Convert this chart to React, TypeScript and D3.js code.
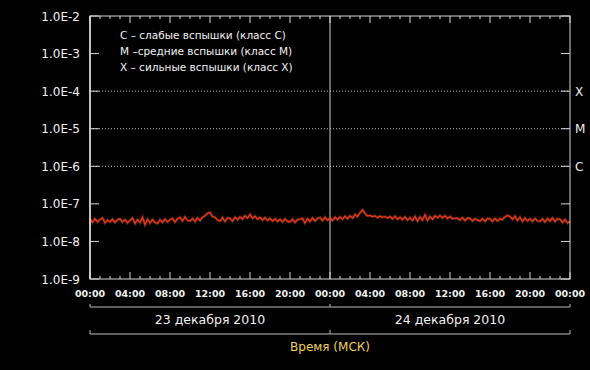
import React from "react";
import * as d3 from "d3";

// X-ray flux, units of 1e-8 W/m^2, every 15 minutes from 23 Dec 00:00 to 25 Dec 00:00
const fluxE8: number[] = [
  3.9, 3.2, 4.0, 3.3, 3.8, 4.2, 3.1, 3.7, 3.3, 3.9, 3.2, 3.8, 4.0, 3.3, 3.8, 3.1,
  3.6, 4.2, 3.0, 3.8, 3.2, 4.4, 2.8, 3.9, 3.1, 3.8, 3.2, 3.0, 3.8, 3.2, 3.9, 3.3,
  3.8, 4.1, 3.3, 4.0, 4.4, 3.5, 4.5, 3.6, 3.5, 4.1, 3.4, 4.2, 3.6, 4.4, 4.8, 5.6,
  5.9, 4.6, 4.4, 3.7, 3.5, 4.3, 3.4, 4.2, 4.1, 3.5, 4.4, 3.8, 4.5, 3.9, 4.8, 4.2,
  5.2, 4.1, 4.7, 3.9, 4.4, 3.7, 4.3, 3.6, 4.1, 3.5, 4.0, 3.4, 3.9, 3.3, 4.0, 3.4,
  3.3, 3.9, 3.2, 3.8, 3.9, 4.1, 3.1, 4.0, 3.4, 4.2, 3.5, 4.1, 4.3, 3.6, 4.4, 3.7,
  4.2, 3.6, 4.4, 3.8, 4.5, 3.9, 4.7, 4.0, 4.8, 4.2, 5.2, 4.6, 5.8, 6.9, 5.6, 4.8,
  4.9, 4.6, 4.8, 4.3, 4.7, 4.4, 4.6, 4.2, 4.6, 4.0, 4.7, 3.9, 4.4, 3.8, 4.5, 3.7,
  4.3, 3.6, 4.6, 3.5, 4.5, 3.7, 5.1, 3.6, 4.6, 3.9, 4.8, 4.3, 4.9, 4.2, 4.8, 4.1,
  4.6, 4.0, 4.2, 4.1, 3.7, 4.3, 3.6, 4.2, 4.1, 3.5, 4.0, 3.7, 3.5, 4.0, 3.4, 4.1,
  4.0, 3.4, 4.1, 3.5, 4.0, 3.8, 4.5, 4.9, 4.6, 3.9, 4.7, 3.6, 4.4, 3.4, 4.2, 3.5,
  4.0, 3.4, 4.1, 3.5, 3.4, 4.0, 3.3, 4.1, 3.5, 4.2, 3.4, 4.0, 3.9, 3.2, 3.8, 3.1,
  3.4,
];
const yTickValues: number[] = [1e-9, 1e-8, 1e-7, 1e-6, 1e-5, 1e-4, 1e-3, 1e-2];
const yTickLabels: string[] = ["1.0E-9", "1.0E-8", "1.0E-7", "1.0E-6", "1.0E-5", "1.0E-4", "1.0E-3", "1.0E-2"];
const xTickHours: number[] = [0, 4, 8, 12, 16, 20, 24, 28, 32, 36, 40, 44, 48];
const xTickLabels: string[] = ["00:00", "04:00", "08:00", "12:00", "16:00", "20:00", "00:00", "04:00", "08:00", "12:00", "16:00", "20:00", "00:00"];
const classLevels: number[] = [1e-4, 1e-5, 1e-6];
const classLabels: string[] = ["X", "M", "C"];
const legendLines: string[] = [
  "C – слабые вспышки (класс C)",
  "M –средние вспышки (класс M)",
  "X – сильные вспышки (класс X)",
];
const dayLabels: string[] = ["23 декабря 2010", "24 декабря 2010"];
const axisTitle = "Время (МСК)";

export default function App() {
  const W = 590, H = 370;
  const left = 90, right = 570, top = 16, bottom = 279;
  const x = d3.scaleLinear().domain([0, 48]).range([left, right]);
  const y = d3.scaleLog().domain([1e-9, 1e-2]).range([bottom, top]);
  const points: [number, number][] = fluxE8.map((v, i) => [i * 0.25, v * 1e-8]);
  const line = d3.line<[number, number]>().x(d => x(d[0])).y(d => y(d[1]));
  const hours = d3.range(0, 49);
  const font = "'DejaVu Sans', Verdana, sans-serif";
  const axisColor = "#d8d8d8";

  return (
    <svg width={W} height={H} style={{ position: "absolute", left: 0, top: 0, background: "#000" }}>
      <rect x={0} y={0} width={W} height={H} fill="#000" />
      {/* class dotted lines */}
      {classLevels.map((c, i) => (
        <g key={"c" + i}>
          <line x1={left} x2={right} y1={y(c)} y2={y(c)} stroke="#bbb" strokeWidth={1} strokeDasharray="1,2" />
          <text x={575} y={y(c) + 4.5} fill="#eee" fontSize={12} fontFamily={font}>{classLabels[i]}</text>
        </g>
      ))}
      {/* midnight line */}
      <line x1={x(24)} x2={x(24)} y1={top} y2={bottom} stroke="#cfcfcf" strokeWidth={1} />
      {/* data */}
      <path d={line(points) || ""} fill="none" stroke="#ff5a2a" strokeOpacity={0.3} strokeWidth={3} />
      <path d={line(points) || ""} fill="none" stroke="#f03c1c" strokeWidth={1.2} />
      {/* frame */}
      <rect x={left} y={top} width={right - left} height={bottom - top} fill="none" stroke={axisColor} strokeWidth={1} />
      <line x1={left} x2={left} y1={top} y2={bottom} stroke={axisColor} strokeWidth={1.6} />
      {/* hour ticks */}
      {hours.map(h => {
        const len = h % 4 === 0 ? 7 : 3;
        return (
          <g key={"h" + h}>
            <line x1={x(h)} x2={x(h)} y1={top} y2={top + len} stroke={axisColor} strokeWidth={1} />
            <line x1={x(h)} x2={x(h)} y1={bottom} y2={bottom - len} stroke={axisColor} strokeWidth={1} />
          </g>
        );
      })}
      {/* y ticks */}
      {yTickValues.map((v, i) => (
        <g key={"y" + i}>
          <line x1={left} x2={left + 9} y1={y(v)} y2={y(v)} stroke={axisColor} strokeWidth={1} />
          <line x1={right - 9} x2={right} y1={y(v)} y2={y(v)} stroke={axisColor} strokeWidth={1} />
          <text x={80} y={y(v) + 4.5} textAnchor="end" fill="#f2f2f2" fontSize={12} fontFamily={font}>{yTickLabels[i]}</text>
        </g>
      ))}
      {/* x tick labels */}
      {xTickHours.map((h, i) => (
        <text key={"xl" + i} x={x(h)} y={297} textAnchor="middle" fill="#f2f2f2" fontSize={9.5} fontWeight="bold" fontFamily={font}>{xTickLabels[i]}</text>
      ))}
      {/* legend */}
      {legendLines.map((t, i) => (
        <text key={"lg" + i} x={120} y={39 + i * 16} fill="#f2f2f2" fontSize={10.5} fontFamily={font}>{t}</text>
      ))}
      {/* day brackets */}
      <line x1={left} x2={right} y1={307} y2={307} stroke="#bbb" strokeWidth={1} />
      {[0, 24, 48].map(h => (
        <line key={"b1" + h} x1={x(h)} x2={x(h)} y1={304} y2={307} stroke="#bbb" strokeWidth={1} />
      ))}
      {dayLabels.map((t, i) => (
        <text key={"d" + i} x={x(i * 24 + 12)} y={324} textAnchor="middle" fill="#f2f2f2" fontSize={12.5} fontFamily={font}>{t}</text>
      ))}
      <line x1={left} x2={right} y1={334} y2={334} stroke="#bbb" strokeWidth={1} />
      {[0, 24, 48].map(h => (
        <line key={"b2" + h} x1={x(h)} x2={x(h)} y1={330} y2={334} stroke="#bbb" strokeWidth={1} />
      ))}
      <text x={x(24)} y={351} textAnchor="middle" fill="#f0cf5a" fontSize={12} fontFamily={font}>{axisTitle}</text>
    </svg>
  );
}
